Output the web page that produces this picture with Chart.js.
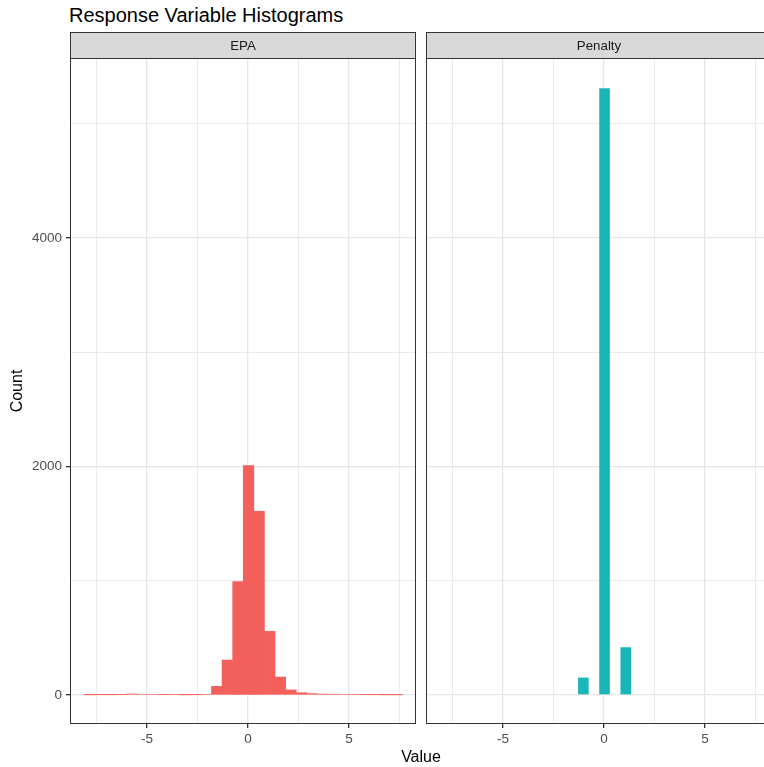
<!DOCTYPE html>
<html>
<head>
<meta charset="utf-8">
<script src="https://cdn.jsdelivr.net/npm/chart.js@4.4.1/dist/chart.umd.min.js"></script>
<style>
  html, body { margin: 0; padding: 0; background: #fff; }
  body { width: 764px; height: 767px; overflow: hidden; position: relative; font-family: 'Liberation Sans', Arial, sans-serif; }
  canvas { position: absolute; top: 0; }
  #titulo { position: absolute; left: 69px; top: 5px; font-size: 20px; line-height: 20px; color: #000; white-space: nowrap; }
  #eixoX { position: absolute; left: 0; width: 842px; top: 749px; font-size: 16px; line-height: 16px; color: #000; text-align: center; }
</style>
</head>
<body>
<div id="titulo">Response Variable Histograms</div>
<canvas id="epaChart" width="420" height="767" style="left:0"></canvas>
<canvas id="penaltyChart" width="352" height="767" style="left:420px"></canvas>
<div id="eixoX">Value</div>
<script>
// centros dos bins (compartilhados pelas duas facetas)
const binCenters = [-7.85, -7.325, -6.8, -6.275, -5.75, -5.225, -4.7, -4.175, -3.65, -3.125,
                    -2.6, -2.075, -1.55, -1.025, -0.5, 0.025, 0.55, 1.075, 1.6, 2.125,
                    2.65, 3.175, 3.7, 4.225, 4.75, 5.275, 5.8, 6.325, 6.85, 7.375];
const epaCounts = [1, 2, 2, 3, 9, 6, 6, 3, 5, 1, 2, 6, 76, 306, 992, 2007, 1608, 557, 157, 44,
                   20, 12, 8, 7, 6, 5, 3, 2, 1, 1];
const penaltyCounts = [0, 0, 0, 0, 0, 0, 0, 0, 0, 0, 0, 0, 0, 152, 0, 5310, 0, 418, 0, 0,
                       0, 0, 0, 0, 0, 0, 0, 0, 0, 0];
const facetLabels = ['EPA', 'Penalty'];
const facetColors = ['#F35F5B', '#18B5B9'];
const xTicks = [-7.5, -5, -2.5, 0, 2.5, 5, 7.5];
const xLabels = [-5, 0, 5];
const yTicks = [0, 1000, 2000, 3000, 4000, 5000];
const yLabels = [0, 2000, 4000];

Chart.defaults.font.family = "'Liberation Sans', Arial, sans-serif";

// moldura do painel + faixa cinza com o nome da faceta
const facetStrip = {
    id: 'facetStrip',
    afterDraw(chart, args, opts) {
        const { ctx, chartArea: a } = chart;
        ctx.save();
        ctx.fillStyle = '#D9D9D9';
        ctx.fillRect(a.left, 32, a.right - a.left, a.top - 32);
        ctx.strokeStyle = '#333333';
        ctx.lineWidth = 1;
        ctx.strokeRect(a.left + 0.5, 32.5, a.right - a.left - 1, a.top - 32);
        ctx.strokeRect(a.left + 0.5, a.top + 0.5, a.right - a.left - 1, a.bottom - a.top - 1);
        ctx.fillStyle = '#1A1A1A';
        ctx.font = "13.3px 'Liberation Sans', Arial, sans-serif";
        ctx.textAlign = 'center';
        ctx.textBaseline = 'middle';
        ctx.fillText(opts.label, (a.left + a.right) / 2, (32 + a.top) / 2 + 1);
        ctx.restore();
    }
};

function makeFacet(canvasId, idx, counts, showY) {
    const isMajorX = c => !!c.tick && xLabels.includes(c.tick.value);
    const isMajorY = c => !!c.tick && yLabels.includes(c.tick.value);
    return new Chart(document.getElementById(canvasId), {
        type: 'bar',
        data: {
            datasets: [{
                data: binCenters.map((x, i) => ({ x: x, y: counts[i] })),
                backgroundColor: facetColors[idx],
                borderWidth: 0,
                // sem zeros no EPA: um leve inflate tira as frestas entre as barras
                inflateAmount: showY ? 0.3 : 0,
                barPercentage: 1,
                categoryPercentage: 1
            }]
        },
        options: {
            responsive: false,
            animation: false,
            devicePixelRatio: 1,
            layout: { padding: { top: 58, right: showY ? 4 : 0, bottom: 0, left: 0 } },
            plugins: {
                legend: { display: false },
                tooltip: { enabled: false },
                facetStrip: { label: facetLabels[idx] }
            },
            scales: {
                x: {
                    type: 'linear',
                    min: -8.82,
                    max: 8.32,
                    offset: false,
                    afterBuildTicks: s => { s.ticks = xTicks.map(v => ({ value: v })); },
                    afterFit: s => { s.height = 43; },
                    border: { display: false },
                    grid: {
                        offset: false,
                        color: '#E6E6E6',
                        lineWidth: c => isMajorX(c) ? 1.3 : 0.8,
                        tickColor: c => isMajorX(c) ? '#333333' : 'rgba(0,0,0,0)',
                        tickLength: 4
                    },
                    ticks: {
                        autoSkip: false,
                        maxRotation: 0,
                        padding: 3,
                        color: '#4D4D4D',
                        font: { size: 13.5 },
                        callback: v => xLabels.includes(v) ? String(v) : ''
                    }
                },
                y: {
                    min: -254,
                    max: 5575,
                    afterBuildTicks: s => { s.ticks = yTicks.map(v => ({ value: v })); },
                    afterFit: s => { s.width = showY ? 70 : 6; },
                    border: { display: false },
                    title: {
                        display: showY,
                        text: 'Count',
                        color: '#000',
                        font: { size: 16 },
                        padding: { top: 8, bottom: 0 }
                    },
                    grid: {
                        color: '#E6E6E6',
                        lineWidth: c => isMajorY(c) ? 1.3 : 0.8,
                        tickColor: c => (showY && isMajorY(c)) ? '#333333' : 'rgba(0,0,0,0)',
                        tickLength: 4
                    },
                    ticks: {
                        display: showY,
                        autoSkip: false,
                        padding: 4,
                        color: '#4D4D4D',
                        font: { size: 13.5 },
                        callback: v => yLabels.includes(v) ? String(v) : ''
                    }
                }
            }
        },
        plugins: [facetStrip]
    });
}

makeFacet('epaChart', 0, epaCounts, true);
makeFacet('penaltyChart', 1, penaltyCounts, false);
</script>
</body>
</html>
